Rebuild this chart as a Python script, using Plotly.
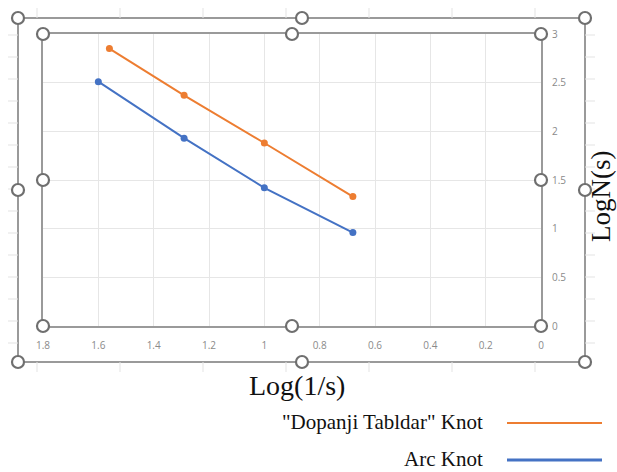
import plotly.graph_objects as go

# ---- data ----
series_names = ['"Dopanji Tabldar" Knot', "Arc Knot"]
dopanji_x = [1.56, 1.29, 1.0, 0.68]
dopanji_y = [2.85, 2.37, 1.88, 1.33]
arc_x = [1.6, 1.29, 1.0, 0.68]
arc_y = [2.51, 1.93, 1.42, 0.96]
x_ticks = [1.8, 1.6, 1.4, 1.2, 1.0, 0.8, 0.6, 0.4, 0.2, 0.0]
x_tick_labels = ["1.8", "1.6", "1.4", "1.2", "1", "0.8", "0.6", "0.4", "0.2", "0"]
y_ticks = [0, 0.5, 1, 1.5, 2, 2.5, 3]
y_tick_labels = ["0", "0.5", "1", "1.5", "2", "2.5", "3"]
x_title = "Log(1/s)"
y_title = "LogN(s)"
colors = ["#ED7D31", "#4472C4"]

W, H = 617, 472
L, R, T, B = 43, 541, 34, 326


def px(x):
    return (x - L) / (R - L)


def py(y):
    return (B - y) / (B - T)


fig = go.Figure()
fig.add_trace(go.Scatter(x=dopanji_x, y=dopanji_y, mode="lines+markers", name=series_names[0],
                         line=dict(color=colors[0], width=2), marker=dict(size=7, color=colors[0])))
fig.add_trace(go.Scatter(x=arc_x, y=arc_y, mode="lines+markers", name=series_names[1],
                         line=dict(color=colors[1], width=2), marker=dict(size=7, color=colors[1])))

shapes = []
annotations = []
gray = "#9a9a9a"
# outer chart frame
shapes.append(dict(type="rect", xref="paper", yref="paper", x0=px(18), x1=px(585), y0=py(18), y1=py(362),
                   line=dict(color=gray, width=2), layer="above"))
# faint outer ticks on left / right of outer frame
for yy in range(35, 362, 22):
    shapes.append(dict(type="line", xref="paper", yref="paper", x0=px(8), x1=px(18), y0=py(yy), y1=py(yy),
                       line=dict(color="#e3e3e3", width=1)))
    shapes.append(dict(type="line", xref="paper", yref="paper", x0=px(585), x1=px(595), y0=py(yy), y1=py(yy),
                       line=dict(color="#e3e3e3", width=1)))
for xx in range(37, 590, 83):
    shapes.append(dict(type="line", xref="paper", yref="paper", x0=px(xx), x1=px(xx), y0=py(8), y1=py(18),
                       line=dict(color="#e3e3e3", width=1)))
    shapes.append(dict(type="line", xref="paper", yref="paper", x0=px(xx), x1=px(xx), y0=py(362), y1=py(372),
                       line=dict(color="#e3e3e3", width=1)))

# selection handles
handles = [(43, 34), (292, 34), (541, 34), (43, 180), (541, 180), (43, 326), (292, 326), (541, 326),
           (18, 18), (302, 18), (585, 18), (18, 190), (585, 190), (18, 362), (302, 362), (585, 362)]
r = 6
for hx, hy in handles:
    shapes.append(dict(type="circle", xref="paper", yref="paper", x0=px(hx - r), x1=px(hx + r),
                       y0=py(hy - r), y1=py(hy + r), line=dict(color="#6f6f6f", width=2.2),
                       fillcolor="white", layer="above"))

# axis titles
annotations.append(dict(text=x_title, xref="paper", yref="paper", x=px(297), y=py(385), showarrow=False,
                        xanchor="center", yanchor="middle",
                        font=dict(family="Liberation Serif", size=28, color="#111")))
annotations.append(dict(text=y_title, xref="paper", yref="paper", x=px(601), y=py(197), showarrow=False,
                        textangle=-90, xanchor="center", yanchor="middle",
                        font=dict(family="Liberation Serif", size=27, color="#111")))

# manual legend (line on the right of text)
leg_y = [422, 459]
for name, c, ly, lw in zip(series_names, colors, leg_y, [2, 3]):
    annotations.append(dict(text=name, xref="paper", yref="paper", x=px(485), y=py(ly), showarrow=False,
                            xanchor="right", yanchor="middle",
                            font=dict(family="Liberation Serif", size=21, color="#111")))
    shapes.append(dict(type="line", xref="paper", yref="paper", x0=px(507), x1=px(602), y0=py(ly + 1),
                       y1=py(ly + 1), line=dict(color=c, width=lw)))

fig.update_layout(
    width=W, height=H,
    margin=dict(l=L, r=W - R, t=T, b=H - B),
    paper_bgcolor="white", plot_bgcolor="white",
    showlegend=False,
    shapes=shapes, annotations=annotations,
    xaxis=dict(range=[1.8, 0], tickvals=x_ticks, ticktext=x_tick_labels, showgrid=True,
               gridcolor="#e6e6e6", gridwidth=1, showline=True, mirror=True, linecolor=gray, linewidth=2,
               ticks="outside", ticklen=9, tickcolor="rgba(0,0,0,0)", zeroline=False,
               tickfont=dict(family="Open Sans", size=10, color="#8a8a8a")),
    yaxis=dict(range=[0, 3], tickvals=y_ticks, ticktext=y_tick_labels, side="right", showgrid=True,
               gridcolor="#e6e6e6", gridwidth=1, showline=True, mirror=True, linecolor=gray, linewidth=2,
               ticks="outside", ticklen=7, tickcolor="rgba(0,0,0,0)", zeroline=False,
               tickfont=dict(family="Open Sans", size=10, color="#8a8a8a")),
)

fig.write_html("out.html", config={"displayModeBar": False},
               post_script="document.body.style.margin='0';document.body.style.overflow='hidden';")
